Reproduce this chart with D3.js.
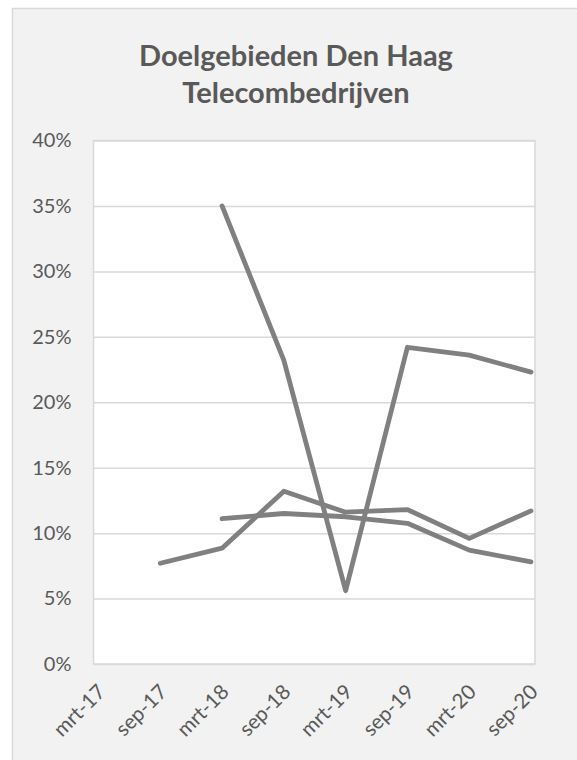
<!DOCTYPE html>
<html>
<head>
<meta charset="utf-8">
<script src="https://cdn.jsdelivr.net/npm/d3@7"></script>
<style>
  body { margin: 0; background: #fff; }
  svg { display: block; font-family: Lato, "Open Sans", sans-serif; }
</style>
</head>
<body>
<div id="chart"></div>
<script>
// data
var categories = ["mrt-17", "sep-17", "mrt-18", "sep-18", "mrt-19", "sep-19", "mrt-20", "sep-20"];
var serieA = [null, null, 0.350, 0.232, 0.056, 0.242, 0.236, 0.223];
var serieB = [null, 0.077, 0.0885, 0.132, 0.116, 0.118, 0.096, 0.117];
var serieC = [null, null, 0.111, 0.115, 0.1125, 0.1075, 0.087, 0.078];
var yTicks = [0, 0.05, 0.10, 0.15, 0.20, 0.25, 0.30, 0.35, 0.40];
var titleLines = ["Doelgebieden Den Haag", "Telecombedrijven"];

var W = 577, H = 760;
var plot = {left: 93.5, top: 140.5, right: 535, bottom: 664};

var svg = d3.select("#chart").append("svg")
  .attr("width", W)
  .attr("height", H);

// chart area
svg.append("rect")
  .attr("x", 12.5).attr("y", 8.5)
  .attr("width", W + 20).attr("height", H + 20)
  .attr("fill", "#f2f2f2")
  .attr("stroke", "#d9d9d9")
  .attr("stroke-width", 1.5);

// title
svg.append("text")
  .attr("text-anchor", "middle")
  .attr("fill", "#595959")
  .style("font-size", "29px")
  .style("font-weight", "bold")
  .selectAll("tspan")
  .data(titleLines)
  .enter()
  .append("tspan")
  .attr("x", 296)
  .attr("y", function(d, i){ return 66 + i * 37; })
  .text(function(d){ return d; });

var x = d3.scalePoint()
  .domain(categories)
  .range([98.5, 531]);

var y = d3.scaleLinear()
  .domain([0, 0.4])
  .range([plot.bottom, plot.top]);

// plot area
svg.append("rect")
  .attr("x", plot.left).attr("y", plot.top)
  .attr("width", plot.right - plot.left)
  .attr("height", plot.bottom - plot.top)
  .attr("fill", "#fff")
  .attr("stroke", "#d9d9d9")
  .attr("stroke-width", 1.5);

var yAxis = svg.append("g")
  .attr("transform", "translate(" + plot.left + ",0)")
  .call(d3.axisLeft(y)
    .tickValues(yTicks)
    .tickSize(-(plot.right - plot.left))
    .tickPadding(22)
    .tickFormat(d3.format(".0%")));

yAxis.select(".domain").remove();
yAxis.selectAll(".tick line")
  .attr("stroke", "#d9d9d9")
  .attr("stroke-width", 1.5);
yAxis.selectAll(".tick text")
  .attr("fill", "#595959")
  .style("font-size", "20px")
  .style("font-family", "Lato, sans-serif");

// category labels, rotated
svg.append("g")
  .selectAll("text")
  .data(categories)
  .enter()
  .append("text")
  .attr("transform", function(d){ return "translate(" + (x(d) + 3) + ",688) rotate(-45)"; })
  .attr("text-anchor", "end")
  .attr("dy", "0.35em")
  .attr("fill", "#595959")
  .style("font-size", "20.5px")
  .text(function(d){ return d; });

var line = d3.line()
  .defined(function(d){ return d != null; })
  .x(function(d, i){ return x(categories[i]); })
  .y(function(d){ return y(d); });

svg.append("g")
  .selectAll("path")
  .data([serieA, serieB, serieC])
  .enter()
  .append("path")
  .attr("d", line)
  .attr("fill", "none")
  .attr("stroke", "#808080")
  .attr("stroke-width", 4.8)
  .attr("stroke-linecap", "round")
  .attr("stroke-linejoin", "round");
</script>
</body>
</html>
